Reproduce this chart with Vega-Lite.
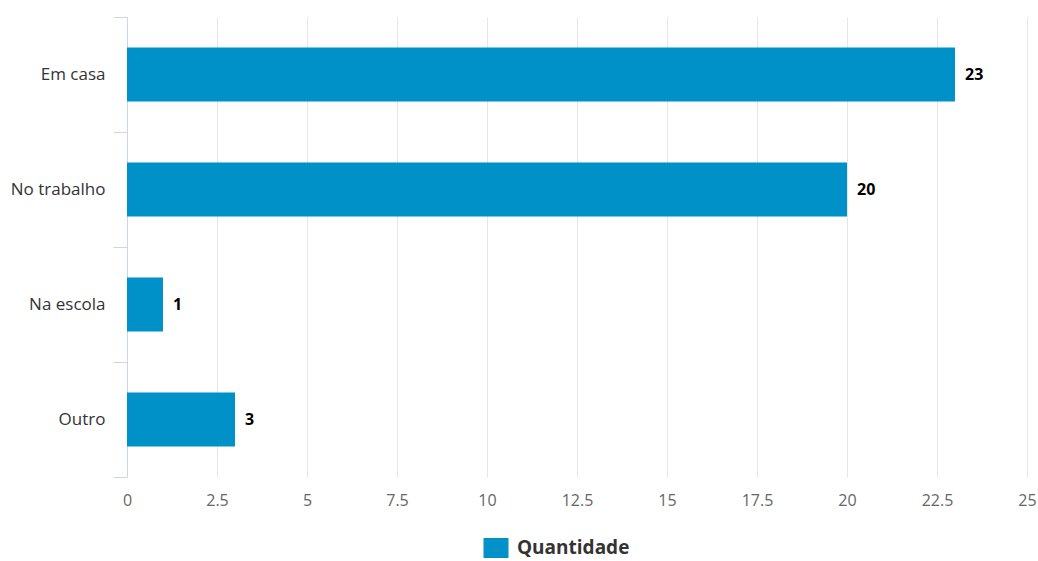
{
  "$schema": "https://vega.github.io/schema/vega-lite/v6.json",
  "width": 900,
  "height": 460,
  "autosize": {"type": "none"},
  "padding": {"left": 127, "top": 17, "right": 11, "bottom": 84},
  "background": "white",
  "config": {"view": {"stroke": null}, "font": "Open Sans"},
  "data": {
    "values": [
      {"local": "Em casa", "quantidade": 23},
      {"local": "No trabalho", "quantidade": 20},
      {"local": "Na escola", "quantidade": 1},
      {"local": "Outro", "quantidade": 3}
    ]
  },
  "encoding": {
    "y": {
      "field": "local",
      "type": "nominal",
      "sort": null,
      "scale": {"paddingInner": 0, "paddingOuter": 0},
      "axis": {
        "title": null,
        "bandPosition": 1,
        "tickExtra": true,
        "tickSize": 14,
        "tickColor": "#ccd6eb",
        "domainColor": "#ccd6eb",
        "labelPadding": 8,
        "labelFont": "Open Sans",
        "labelFontSize": 17,
        "labelColor": "#333333",
        "grid": false
      }
    },
    "x": {
      "field": "quantidade",
      "type": "quantitative",
      "scale": {"domain": [0, 25], "nice": false},
      "axis": {
        "title": null,
        "values": [0, 2.5, 5, 7.5, 10, 12.5, 15, 17.5, 20, 22.5, 25],
        "labelExpr": "'' + datum.value",
        "labelFlush": false,
        "grid": true,
        "gridColor": "#e6e6e6",
        "domain": false,
        "ticks": false,
        "labelPadding": 15,
        "labelFont": "Open Sans",
        "labelFontSize": 16,
        "labelColor": "#666666"
      }
    }
  },
  "layer": [
    {
      "mark": {"type": "bar", "height": {"band": 0.47}},
      "encoding": {
        "color": {
          "datum": "Quantidade",
          "type": "nominal",
          "scale": {"range": ["#0091c9"]},
          "legend": {
            "title": null,
            "orient": "none",
            "legendX": 359,
            "legendY": 521,
            "symbolType": "M-1.25,-1L1.25,-1L1.25,1L-1.25,1Z",
            "symbolSize": 400,
            "symbolStrokeWidth": 0,
            "labelOffset": 11,
            "labelFont": "Open Sans",
            "labelFontSize": 19,
            "labelFontWeight": "bold",
            "labelColor": "#333333"
          }
        }
      }
    },
    {
      "mark": {
        "type": "text",
        "align": "left",
        "baseline": "middle",
        "dx": 10,
        "font": "Open Sans",
        "fontSize": 16,
        "fontWeight": "bold",
        "color": "#000000"
      },
      "encoding": {"text": {"field": "quantidade", "type": "quantitative"}}
    }
  ]
}
